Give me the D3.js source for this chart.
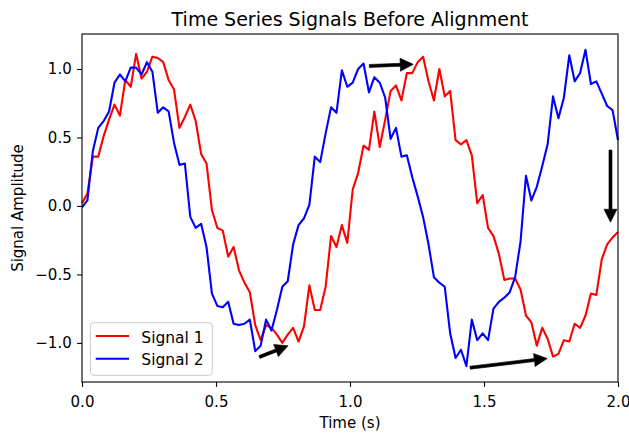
<!DOCTYPE html>
<html>
<head>
<meta charset="utf-8">
<script src="https://cdn.jsdelivr.net/npm/d3@7"></script>
<style>
  body { margin: 0; background: white; }
  text { font-family: "DejaVu Sans", sans-serif; fill: #000; }
</style>
</head>
<body>
<div id="okvir"></div>
<script>
// values, 100 samples over 0..2 s
const signal1 = [
  0.02, 0.09, 0.36, 0.36, 0.51, 0.63, 0.74, 0.66, 0.92, 0.87,
  1.11, 0.93, 0.98, 1.09, 1.08, 1.05, 0.92, 0.85, 0.57, 0.65,
  0.74, 0.62, 0.38, 0.31, -0.03, -0.16, -0.18, -0.37, -0.30, -0.47,
  -0.56, -0.63, -0.87, -0.98, -0.87, -0.89, -0.94, -1.00, -0.94, -0.89,
  -0.99, -0.88, -0.58, -0.76, -0.76, -0.59, -0.22, -0.30, -0.14, -0.27,
  0.12, 0.24, 0.44, 0.41, 0.69, 0.43, 0.63, 0.84, 0.88, 0.77,
  0.97, 0.97, 1.05, 1.09, 0.91, 0.77, 1.00, 0.80, 0.84, 0.48,
  0.45, 0.48, 0.37, 0.02, 0.08, -0.16, -0.22, -0.35, -0.54, -0.53,
  -0.53, -0.61, -0.80, -0.85, -1.02, -0.89, -0.97, -1.10, -1.08, -0.98,
  -0.99, -0.86, -0.89, -0.80, -0.64, -0.65, -0.39, -0.28, -0.23, -0.19
]
const signal2 = [
  -0.01, 0.04, 0.40, 0.57, 0.62, 0.69, 0.90, 0.96, 0.91, 1.01,
  1.01, 0.96, 1.05, 0.98, 0.68, 0.72, 0.69, 0.46, 0.30, 0.31,
  -0.08, -0.16, -0.13, -0.30, -0.64, -0.73, -0.74, -0.70, -0.86, -0.87,
  -0.86, -0.83, -1.06, -1.02, -0.83, -0.91, -0.76, -0.59, -0.55, -0.28,
  -0.14, -0.09, 0.01, 0.36, 0.32, 0.53, 0.72, 0.68, 0.99, 0.87,
  0.90, 1.00, 1.04, 0.83, 0.94, 0.90, 0.79, 0.49, 0.57, 0.36,
  0.37, 0.21, 0.07, -0.08, -0.28, -0.52, -0.56, -0.59, -0.93, -1.11,
  -1.05, -1.17, -0.83, -0.98, -0.93, -0.98, -0.75, -0.70, -0.67, -0.63,
  -0.52, -0.26, 0.22, 0.04, 0.14, 0.29, 0.45, 0.80, 0.64, 0.79,
  1.10, 0.91, 0.97, 1.14, 0.89, 0.91, 0.82, 0.73, 0.70, 0.48
]
const seriesNames = ["Signal 1", "Signal 2"]
const seriesColors = ["red", "blue"]
const xTicks = [0, 0.5, 1, 1.5, 2]
const yTicks = [-1, -0.5, 0, 0.5, 1]
// arrows: [tail, head] in data units
const arrowTails = [[0.662, -1.103], [1.072, 1.022], [1.448, -1.181], [1.972, 0.408]]
const arrowHeads = [[0.769, -1.021], [1.236, 1.034], [1.736, -1.114], [1.972, -0.119]]

const time = d3.range(signal1.length).map(i => i * 2 / (signal1.length - 1))

let dimensions = {
  width: 629,
  height: 434,
  margin: { top: 34, right: 11, bottom: 52, left: 82 },
}
dimensions.boundedWidth = dimensions.width - dimensions.margin.left - dimensions.margin.right
dimensions.boundedHeight = dimensions.height - dimensions.margin.top - dimensions.margin.bottom

const wrapper = d3.select("#okvir").append("svg")
  .attr("width", dimensions.width)
  .attr("height", dimensions.height)

const bounds = wrapper.append("g")
  .attr("transform", `translate(${dimensions.margin.left},${dimensions.margin.top})`)

const xScale = d3.scaleLinear()
  .domain([0, 2])
  .range([0, dimensions.boundedWidth])

// matplotlib style 5% padding
const allValues = signal1.concat(signal2)
const [yMin, yMax] = d3.extent(allValues)
const pad = (yMax - yMin) * 0.05
const yScale = d3.scaleLinear()
  .domain([yMin - pad, yMax + pad])
  .range([dimensions.boundedHeight, 0])

const lineGenerator = d3.line()
  .x((d, i) => xScale(time[i]))
  .y(d => yScale(d))

const series = [signal1, signal2]
series.forEach((s, k) => {
  bounds.append("path")
    .attr("d", lineGenerator(s))
    .attr("fill", "none")
    .attr("stroke", seriesColors[k])
    .attr("stroke-width", 2.1)
    .attr("stroke-linejoin", "round")
})

// arrows
function arrowPath(x0, y0, x1, y1) {
  const dx = x1 - x0, dy = y1 - y0
  const len = Math.hypot(dx, dy)
  const ux = dx / len, uy = dy / len
  const nx = -uy, ny = ux
  const sw = 1.5, hw = 6.5, hl = 13
  const bx = x1 - ux * hl, by = y1 - uy * hl
  const pts = [
    [x0 + nx * sw, y0 + ny * sw],
    [bx + nx * sw, by + ny * sw],
    [bx + nx * hw, by + ny * hw],
    [x1, y1],
    [bx - nx * hw, by - ny * hw],
    [bx - nx * sw, by - ny * sw],
    [x0 - nx * sw, y0 - ny * sw],
  ]
  return "M" + pts.map(p => p.join(",")).join("L") + "Z"
}
arrowTails.forEach((t, i) => {
  const h = arrowHeads[i]
  bounds.append("path")
    .attr("d", arrowPath(xScale(t[0]), yScale(t[1]), xScale(h[0]), yScale(h[1])))
    .attr("fill", "black")
    .attr("stroke", "black")
    .attr("stroke-width", 0.6)
})

// axes
const fontSize = 15
const xAxis = d3.axisBottom(xScale)
  .tickValues(xTicks)
  .tickFormat(d3.format(".1f"))
  .tickSizeOuter(0)
  .tickSize(4.9)
  .tickPadding(9.3)
const xAxisGroup = bounds.append("g")
  .attr("transform", `translate(0,${dimensions.boundedHeight})`)
  .call(xAxis)

const yAxis = d3.axisLeft(yScale)
  .tickValues(yTicks)
  .tickFormat(d3.format(".1f"))
  .tickSizeOuter(0)
  .tickSize(4.9)
  .tickPadding(5.4)
const yAxisGroup = bounds.append("g").call(yAxis)

;[xAxisGroup, yAxisGroup].forEach(g => {
  g.select(".domain").remove()
  g.selectAll("line").attr("stroke", "black").attr("stroke-width", 1.1)
  g.selectAll("text")
    .attr("font-family", "DejaVu Sans")
    .attr("font-size", fontSize)
    .attr("fill", "black")
})

// frame
bounds.append("rect")
  .attr("width", dimensions.boundedWidth)
  .attr("height", dimensions.boundedHeight)
  .attr("fill", "none")
  .attr("stroke", "black")
  .attr("stroke-width", 1.1)

// labels
wrapper.append("text")
  .attr("x", dimensions.margin.left + dimensions.boundedWidth / 2)
  .attr("y", 25.5)
  .attr("text-anchor", "middle")
  .style("font-size", "19px")
  .text("Time Series Signals Before Alignment")

wrapper.append("text")
  .attr("x", dimensions.margin.left + dimensions.boundedWidth / 2)
  .attr("y", 428)
  .attr("text-anchor", "middle")
  .style("font-size", fontSize + "px")
  .text("Time (s)")

wrapper.append("text")
  .attr("transform", `translate(22.5,${dimensions.margin.top + dimensions.boundedHeight / 2}) rotate(-90)`)
  .attr("text-anchor", "middle")
  .style("font-size", fontSize + "px")
  .text("Signal Amplitude")

// legend
const legend = wrapper.append("g")
legend.append("rect")
  .attr("x", 90.5)
  .attr("y", 322.7)
  .attr("width", 121.8)
  .attr("height", 52.6)
  .attr("rx", 3)
  .attr("fill", "white")
  .attr("fill-opacity", 0.8)
  .attr("stroke", "#cccccc")
  .attr("stroke-width", 1)

seriesNames.forEach((name, i) => {
  const y = 336 + i * 22.7
  legend.append("line")
    .attr("x1", 95.7).attr("x2", 129)
    .attr("y1", y).attr("y2", y)
    .attr("stroke", seriesColors[i])
    .attr("stroke-width", 2.1)
  legend.append("text")
    .attr("x", 141.3)
    .attr("y", y + 6.7)
    .style("font-size", "15.5px")
    .text(name)
})
</script>
</body>
</html>
